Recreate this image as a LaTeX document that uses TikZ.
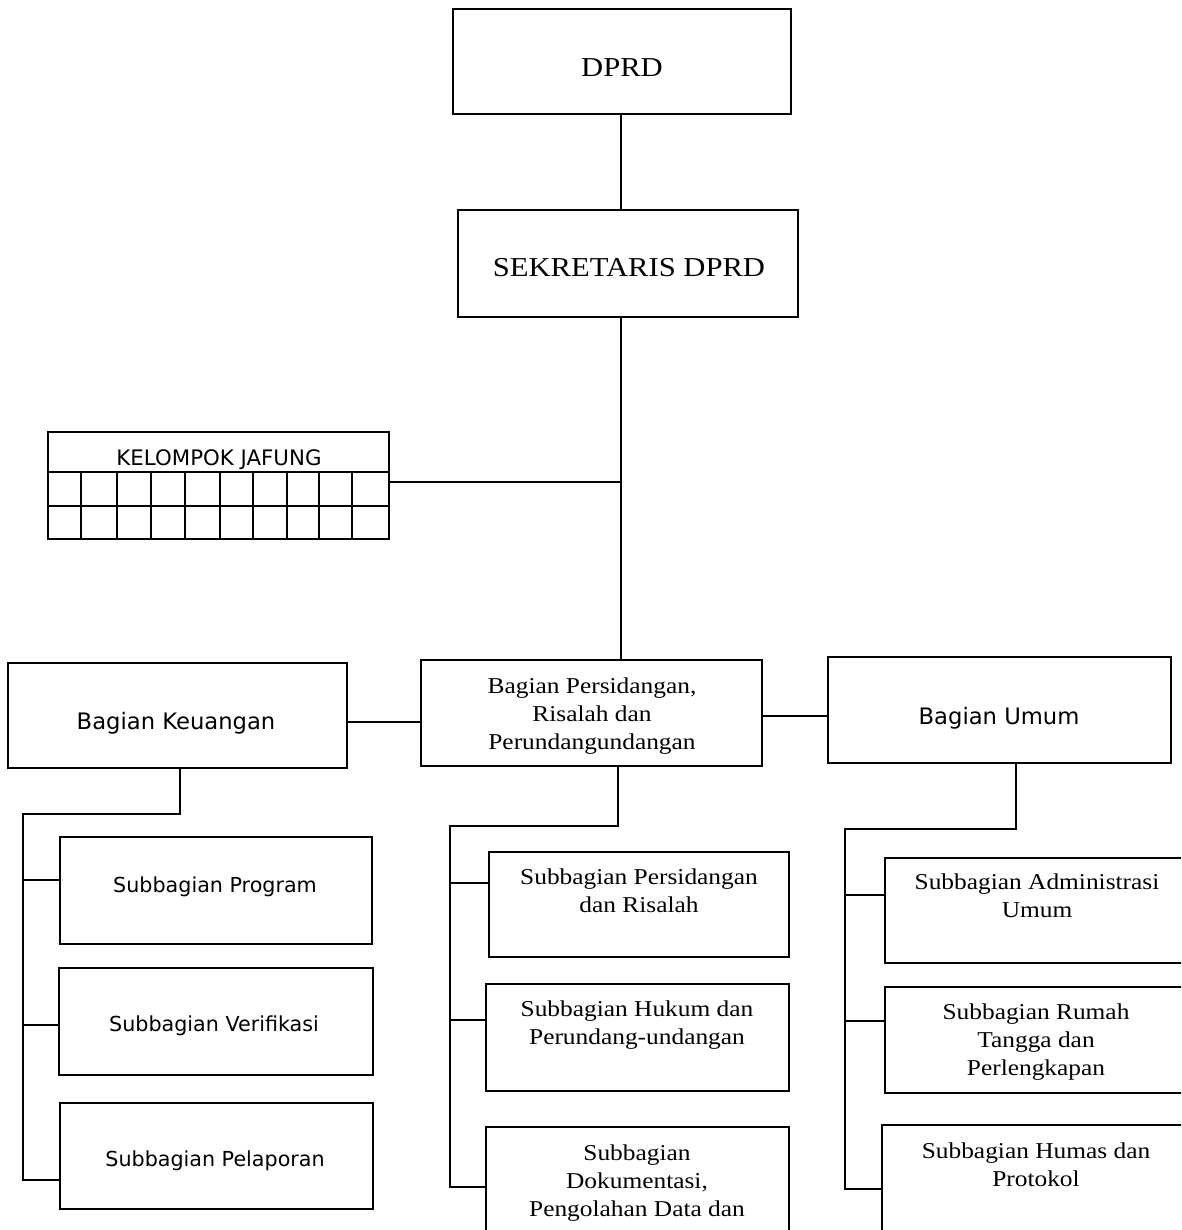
\documentclass[tikz,border=0pt]{standalone}
\usepackage{fontspec}
\setmainfont{Liberation Serif}[FakeStretch=1.12]
\newfontfamily\vsans{DejaVu Sans}
\usetikzlibrary{fit}
\begin{document}
\begin{tikzpicture}[x=0.75pt,y=-0.75pt,line width=1.6pt,
  box/.style={draw,inner sep=0pt},
  big/.style={font=\fontsize{20.5}{24}\selectfont,inner sep=0pt,anchor=base},
  sr/.style={font=\fontsize{17}{21}\selectfont,inner sep=0pt,anchor=base,align=center},
  sb/.style={font=\vsans\fontsize{17}{20}\selectfont,inner sep=0pt,anchor=base},
  ss/.style={font=\vsans\fontsize{15.5}{19}\selectfont,inner sep=0pt,anchor=base},
  jf/.style={font=\vsans\fontsize{16}{19}\selectfont,inner sep=0pt,anchor=base},
  link/.style={draw,line width=1.6pt}]
\useasboundingbox (0,0) rectangle (1181,1230);
\clip (0,0) rectangle (1181,1230);

% top
\node[box,fit={(453,9)(791,114)}] (dprd) {};
\node[big] (tdprd) at (622,77) {DPRD};
\node[box,fit={(458,210)(798,317)}] (sek) {};
\node[big] (tsek) at (629,277) {SEKRETARIS DPRD};

% kelompok jafung
\node[box,fit={(48,432)(389,539)}] (jaf) {};
\node[jf] (tjaf) at (219,465) {KELOMPOK JAFUNG};
\draw (48,472) -- (389,472);
\draw (48,506) -- (389,506);
\foreach \gx in {81,117,151,185,220,253,287,319,352}
  \draw (\gx,472) -- (\gx,539);

% level 3 (multi-line nodes: base = last line baseline)
\node[box,fit={(8,663)(347,768)}] (bk) {};
\node[sb] (tbk) at (176,729) {Bagian Keuangan};
\node[box,fit={(421,660)(762,766)}] (bps) {};
\node[sr] (tbps) at (592,749) {Bagian Persidangan,\\Risalah dan\\Perundangundangan};
\node[box,fit={(828,657)(1171,763)}] (bu) {};
\node[sb] (tbu) at (999,724) {Bagian Umum};

% keuangan subs
\node[box,fit={(60,837)(372,944)}] (sprog) {};
\node[ss] (tsprog) at (215,892) {Subbagian Program};
\node[box,fit={(59,968)(373,1075)}] (sver) {};
\node[ss] (tsver) at (214,1031) {Subbagian Verifikasi};
\node[box,fit={(60,1103)(373,1209)}] (spel) {};
\node[ss] (tspel) at (215,1166) {Subbagian Pelaporan};

% persidangan subs
\node[box,fit={(489,852)(789,957)}] (spr) {};
\node[sr] (tspr) at (639,912) {Subbagian Persidangan\\dan Risalah};
\node[box,fit={(486,984)(789,1091)}] (shuk) {};
\node[sr] (tshuk) at (637,1044) {Subbagian Hukum dan\\Perundang-undangan};
\node[box,fit={(486,1127)(789,1260)}] (sdok) {};
\node[sr] (tsdok) at (637,1216) {Subbagian\\Dokumentasi,\\Pengolahan Data dan};

% umum subs
\node[box,fit={(885,858)(1200,963)}] (sadm) {};
\node[sr] (tsadm) at (1037,917) {Subbagian Administrasi\\Umum};
\node[box,fit={(885,987)(1200,1093)}] (srt) {};
\node[sr] (tsrt) at (1036,1075) {Subbagian Rumah\\Tangga dan\\Perlengkapan};
\node[box,fit={(882,1125)(1200,1260)}] (shum) {};
\node[sr] (tshum) at (1036,1186) {Subbagian Humas dan\\Protokol};

% connectors
\coordinate (trunk) at (621,482);
\draw[link] (dprd.south -| trunk) -- (sek.north -| trunk);
\draw[link] (sek.south -| trunk) -- (bps.north -| trunk);
\draw[link] (jaf.east |- trunk) -- (trunk);
\coordinate (hk) at (0,722);
\draw[link] (bk.east |- hk) -- (bps.west |- hk);
\coordinate (hu) at (0,716);
\draw[link] (bps.east |- hu) -- (bu.west |- hu);

% keuangan tree
\coordinate (k1) at (180,814);
\coordinate (kb) at (23,1180);
\draw[link] (bk.south -| k1) -- (k1) -- (kb |- k1) -- (kb) -- (spel.west |- kb);
\coordinate (k2) at (23,880);
\draw[link] (k2) -- (sprog.west |- k2);
\coordinate (k3) at (23,1025);
\draw[link] (k3) -- (sver.west |- k3);

% persidangan tree
\coordinate (p1) at (618,826);
\coordinate (pb) at (450,1187);
\draw[link] (bps.south -| p1) -- (p1) -- (pb |- p1) -- (pb) -- (sdok.west |- pb);
\coordinate (p2) at (450,883);
\draw[link] (p2) -- (spr.west |- p2);
\coordinate (p3) at (450,1020);
\draw[link] (p3) -- (shuk.west |- p3);

% umum tree
\coordinate (u1) at (1016,829);
\coordinate (ub) at (845,1189);
\draw[link] (bu.south -| u1) -- (u1) -- (ub |- u1) -- (ub) -- (shum.west |- ub);
\coordinate (u2) at (845,895);
\draw[link] (u2) -- (sadm.west |- u2);
\coordinate (u3) at (845,1021);
\draw[link] (u3) -- (srt.west |- u3);
\end{tikzpicture}
\end{document}
